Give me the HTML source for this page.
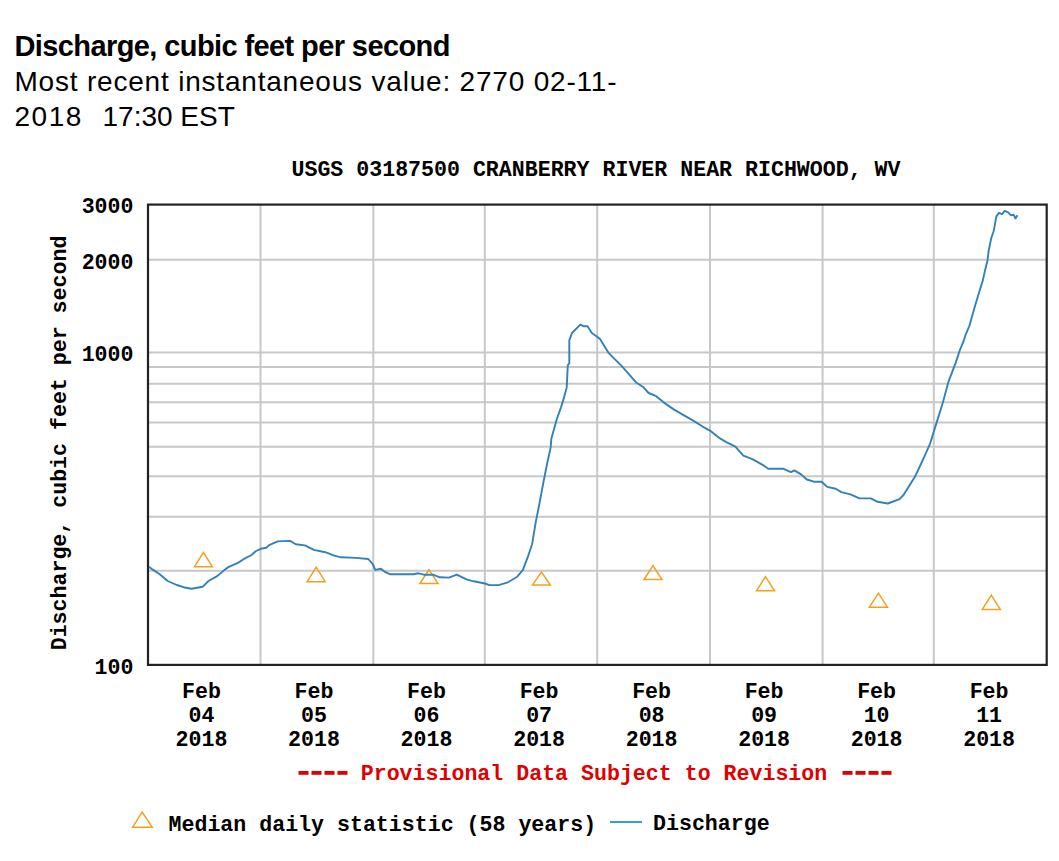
<!DOCTYPE html>
<html><head><meta charset="utf-8"><style>
html,body{margin:0;padding:0;background:#fff;}
body{width:1059px;height:861px;position:relative;overflow:hidden;}
.h{position:absolute;left:15px;font-family:"Liberation Sans",sans-serif;color:#000;white-space:pre;font-size:28px;line-height:35px;}
svg{position:absolute;left:0;top:0;}
svg text{font-family:"Liberation Mono",monospace;font-weight:bold;font-size:21.6px;}
</style></head><body>
<div class="h" style="top:29px;font-weight:bold;font-size:29px;letter-spacing:-0.6px;left:14.5px">Discharge, cubic feet per second</div>
<div class="h" style="top:63.5px;letter-spacing:0.8px;left:14.5px">Most recent instantaneous value: 2770 02-11-</div>
<div class="h" style="top:98.5px;letter-spacing:1.5px;left:14.5px">2018</div>
<div class="h" style="top:98.5px;left:102.5px">17:30 EST</div>
<svg width="1059" height="861" viewBox="0 0 1059 861">
<text x="596" y="176" text-anchor="middle">USGS 03187500 CRANBERRY RIVER NEAR RICHWOOD, WV</text>
<g stroke="#c8c8c8" stroke-width="2"><line x1="148" y1="570.7" x2="1046.7" y2="570.7"/><line x1="148" y1="516.8" x2="1046.7" y2="516.8"/><line x1="148" y1="476.2" x2="1046.7" y2="476.2"/><line x1="148" y1="446.8" x2="1046.7" y2="446.8"/><line x1="148" y1="422.6" x2="1046.7" y2="422.6"/><line x1="148" y1="402.3" x2="1046.7" y2="402.3"/><line x1="148" y1="383.7" x2="1046.7" y2="383.7"/><line x1="148" y1="367.1" x2="1046.7" y2="367.1"/><line x1="148" y1="352.4" x2="1046.7" y2="352.4"/><line x1="148" y1="259.8" x2="1046.7" y2="259.8"/><line x1="260.5" y1="204.6" x2="260.5" y2="664.9"/><line x1="373.3" y1="204.6" x2="373.3" y2="664.9"/><line x1="484.8" y1="204.6" x2="484.8" y2="664.9"/><line x1="597.2" y1="204.6" x2="597.2" y2="664.9"/><line x1="710.0" y1="204.6" x2="710.0" y2="664.9"/><line x1="822.6" y1="204.6" x2="822.6" y2="664.9"/><line x1="933.8" y1="204.6" x2="933.8" y2="664.9"/></g>
<rect x="148" y="204.6" width="898.7" height="460.3" fill="none" stroke="#222" stroke-width="2.2"/>
<g fill="none" stroke="#f2a11c" stroke-width="1.5"><path d="M194.4 566.8L203.4 552.3L212.4 566.8Z"/><path d="M307.2 581.7L316.2 567.2L325.2 581.7Z"/><path d="M420.0 583.5L429.0 569.6L438.0 583.5Z"/><path d="M532.4 585.1L541.4 572.0L550.4 585.1Z"/><path d="M644.0 579.5L653.0 565.6L662.0 579.5Z"/><path d="M756.5 590.8L765.5 576.6L774.5 590.8Z"/><path d="M869.4 607.2L878.4 593.2L887.4 607.2Z"/><path d="M982.3 609.4L991.3 595.1L1000.3 609.4Z"/></g>
<polyline fill="none" stroke="#3181bb" stroke-width="1.9" stroke-linejoin="round" points="149,566.8 152.4,569.4 159.7,574.2 167.7,581 176.7,585 183.5,587.2 191.5,588.7 202.8,586.7 208.5,581 217.5,575.9 225.5,569.1 228.9,566.8 237.9,562.9 243.6,559.2 251.5,555 256,551 260.7,548.8 266.3,547.7 269.7,544.8 277.7,541.4 290.1,540.9 295.8,544.3 304.9,545.4 313.9,549.9 325.3,552.2 334.3,555.6 341.1,557.3 355.9,557.9 368.3,559 372.9,564.3 375.2,569.9 380.9,568.8 385.4,572.2 389.9,574.2 413.7,574.2 418.3,573.3 423.9,574.7 433,574.7 439.8,577.3 448.9,577.6 456.8,574.7 467,579.6 473.8,581.3 485,583.5 489.3,585.1 498.6,585.1 507.9,582.3 517.2,576.7 522.8,570.2 528.4,555.3 532.1,544.2 535.8,521.9 539.5,503.3 543.3,482.8 547,464.2 550.7,447.4 551.3,439 556.6,419.8 560.9,407.6 563.6,398.9 566.7,387.4 567.8,365.4 569.3,363.3 569.3,340.3 572,333 580.3,324.6 583.5,326.2 587.6,326.2 591.8,333 597.1,336.7 600.2,339.3 608.6,352.9 612.7,357.1 621.1,365.4 629.5,374.8 635.8,382.2 643.5,387.3 648.6,393 656.2,396.2 663.9,402.6 674.1,409.6 681.8,414.1 692,419.9 702.2,426.3 711.2,431.4 720,438.4 726.3,442.1 735.4,446.6 743.3,455.7 752.4,459.1 762.6,464.8 768.3,468.7 783,468.7 790.9,472.1 794.3,470.4 801.1,474.4 806.8,479.5 814.7,481.8 821.5,481.8 827.2,486.9 835.7,488.7 841.3,492.1 850.4,494.4 859.5,498.4 870.8,498.4 877.6,501.8 887.8,503.5 899.5,499.1 903.5,495 907.9,487.9 914.9,476.8 919.8,466.5 924.7,455.8 930.2,443.3 935.8,425.1 942.8,402.8 948.4,381.9 955.6,363.1 959.7,350.5 963.2,342.2 966,333.8 969.5,325.5 973,312.9 975.8,303.2 979.2,292 982.7,280.9 985.5,268.4 987.6,260 988.6,251.1 991.2,238.3 993.8,230.7 996.3,216.6 998.9,212.8 1002.1,214.1 1004.6,210.9 1007.8,212.1 1011,215.3 1013.6,214.7 1015.5,218.5 1017.4,215.3"/>
<g text-anchor="middle"><text x="201.5" y="698">Feb</text><text x="201.5" y="722">04</text><text x="201.5" y="746">2018</text><text x="314.0" y="698">Feb</text><text x="314.0" y="722">05</text><text x="314.0" y="746">2018</text><text x="426.5" y="698">Feb</text><text x="426.5" y="722">06</text><text x="426.5" y="746">2018</text><text x="539.1" y="698">Feb</text><text x="539.1" y="722">07</text><text x="539.1" y="746">2018</text><text x="651.6" y="698">Feb</text><text x="651.6" y="722">08</text><text x="651.6" y="746">2018</text><text x="764.1" y="698">Feb</text><text x="764.1" y="722">09</text><text x="764.1" y="746">2018</text><text x="876.6" y="698">Feb</text><text x="876.6" y="722">10</text><text x="876.6" y="746">2018</text><text x="989.1" y="698">Feb</text><text x="989.1" y="722">11</text><text x="989.1" y="746">2018</text></g>
<text x="133.5" y="213" text-anchor="end">3000</text><text x="133.5" y="269" text-anchor="end">2000</text><text x="133.5" y="361" text-anchor="end">1000</text><text x="133.5" y="673.5" text-anchor="end">100</text>
<text transform="translate(66 443) rotate(-90)" text-anchor="middle">Discharge, cubic feet per second</text>
<text x="594" y="780" text-anchor="middle" fill="#e00000">     Provisional Data Subject to Revision     </text>
<g fill="#e00000"><rect x="298.5" y="771" width="10" height="3.8"/><rect x="311.5" y="771" width="10" height="3.8"/><rect x="324.5" y="771" width="10" height="3.8"/><rect x="337.5" y="771" width="10" height="3.8"/><rect x="842.5" y="771" width="10" height="3.8"/><rect x="855.5" y="771" width="10" height="3.8"/><rect x="868.5" y="771" width="10" height="3.8"/><rect x="881.5" y="771" width="10" height="3.8"/></g>
<path d="M132.7 827.2L142.1 812.2L152.3 827.2Z" fill="none" stroke="#f2a11c" stroke-width="1.5"/>
<text x="168.5" y="830.5">Median daily statistic (58 years)</text>
<line x1="610" y1="822" x2="642" y2="822" stroke="#3a9ad9" stroke-width="2"/>
<text x="653" y="830">Discharge</text>
</svg>
</body></html>
